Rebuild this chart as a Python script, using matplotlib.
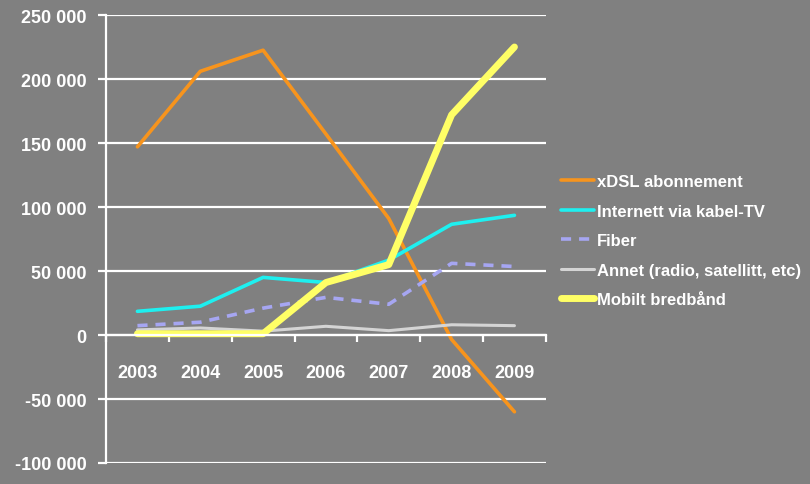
import matplotlib
matplotlib.use('Agg')
import matplotlib.pyplot as plt
from matplotlib.ticker import FuncFormatter

years = ['2003', '2004', '2005', '2006', '2007', '2008', '2009']
xdsl = [147000, 206000, 222500, 157000, 91000, -3500, -60000]
kabel_tv = [18500, 22500, 45000, 41000, 58500, 86500, 93500]
fiber = [7300, 10000, 21000, 29400, 24000, 56000, 53500]
annet = [4000, 5500, 3000, 6800, 3400, 8000, 7300]
mobilt = [1000, 1000, 1000, 41000, 55000, 172000, 225000]

labels = ['xDSL abonnement', 'Internett via kabel-TV', 'Fiber',
          'Annet (radio, satellitt, etc)', 'Mobilt bredbånd']

bg = '#808080'
plt.rcParams['font.family'] = ['Liberation Sans', 'DejaVu Sans']
plt.rcParams['font.weight'] = 'bold'


def main():
    fig = plt.figure(figsize=(8.1, 4.85), dpi=100, facecolor=bg)
    ax = fig.add_axes([0.1309, 0.0433, 0.543, 0.9237])
    ax.set_facecolor(bg)

    x = list(range(len(years)))
    ax.plot(x, xdsl, color='#F7941D', lw=2.6, label=labels[0], solid_capstyle='round')
    ax.plot(x, kabel_tv, color='#1EF0F0', lw=2.6, label=labels[1], solid_capstyle='round')
    ax.plot(x, fiber, color='#A6A6F2', lw=2.6, ls=(0, (2.8, 2.2)), label=labels[2])
    ax.plot(x, annet, color='#D4D4D4', lw=2.2, label=labels[3], solid_capstyle='round')
    ax.plot(x, mobilt, color='#FFFF66', lw=5.0, label=labels[4], solid_capstyle='round')

    ax.set_xlim(-0.5, 6.5)
    ax.set_ylim(-100000, 250000)
    ax.set_yticks(range(-100000, 250001, 50000))
    ax.yaxis.set_major_formatter(FuncFormatter(lambda v, p: f'{int(v):,}'.replace(',', ' ')))
    ax.grid(axis='y', color='white', lw=1.6)
    ax.set_axisbelow(True)

    # category ticks on the boundaries, labels in the middle
    ax.set_xticks([i - 0.5 for i in range(8)])
    ax.set_xticklabels([])
    ax.set_xticks(x, minor=True)
    ax.set_xticklabels(years, minor=True)
    ax.tick_params(axis='x', which='major', direction='out', length=5, width=1.6, color='white')
    ax.tick_params(axis='x', which='minor', length=0, pad=21, labelsize=13, labelcolor='white')
    ax.tick_params(axis='y', direction='out', length=6, width=1.6, color='white',
                   labelsize=13, labelcolor='white', pad=8)

    for s in ['top', 'right']:
        ax.spines[s].set_visible(False)
    ax.spines['bottom'].set_position(('data', 0))
    ax.spines['bottom'].set_color('white')
    ax.spines['bottom'].set_linewidth(1.6)
    ax.spines['left'].set_color('white')
    ax.spines['left'].set_linewidth(1.6)

    leg = fig.legend(loc='upper left', bbox_to_anchor=(0.674, 0.670), frameon=False,
                     fontsize=12, handlelength=2.0, handletextpad=0.15, labelspacing=0.87)
    for t in leg.get_texts():
        t.set_color('white')

    fig.savefig('out.png', dpi=100, facecolor=bg)


if __name__ == '__main__':
    main()
